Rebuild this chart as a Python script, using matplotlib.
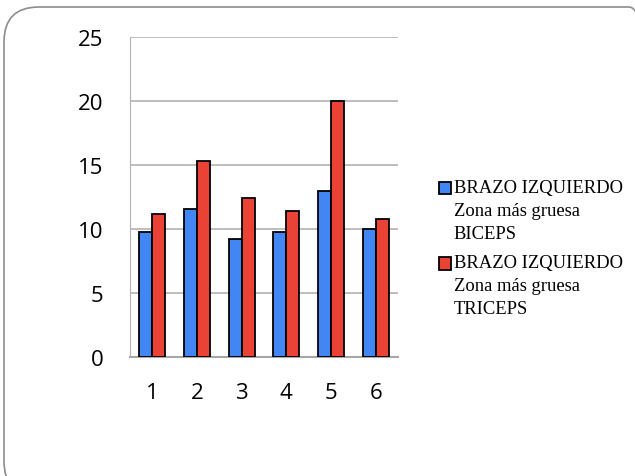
import matplotlib.pyplot as plt
import numpy as np
from matplotlib.patches import FancyBboxPatch, Rectangle
from matplotlib.legend_handler import HandlerPatch, update_from_first_child
from matplotlib.container import BarContainer

# datos
categorias = ['1', '2', '3', '4', '5', '6']
biceps = [9.8, 11.6, 9.2, 9.8, 13.0, 10.0]
triceps = [11.2, 15.3, 12.4, 11.4, 20.0, 10.8]
etiquetas = ['BRAZO IZQUIERDO\nZona más gruesa\nBICEPS',
             'BRAZO IZQUIERDO\nZona más gruesa\nTRICEPS']


def cuadro_arriba(legend, orig_handle, xdescent, ydescent, width, height, fontsize):
    # cuadrito alineado con la primera linea del texto
    return Rectangle((-xdescent, -ydescent + fontsize * 1.2), width, height)


fig = plt.figure(figsize=(6.35, 4.77), dpi=100)

# marco redondeado (se sale por la derecha y abajo)
marco = FancyBboxPatch((4 / 635, -20 / 477), 660 / 635, 489 / 477,
                       boxstyle="round,pad=0,rounding_size=0.055",
                       transform=fig.transFigure, facecolor='none',
                       edgecolor='#8c8c8c', linewidth=1.2, mutation_aspect=635 / 477,
                       zorder=-1)
fig.patches.append(marco)

ax = fig.add_axes([130 / 635, 1 - 358 / 477, 268 / 635, 320 / 477])
ax.set_facecolor('none')

x = np.arange(1, len(categorias) + 1)
w = 0.29
ax.bar(x - w / 2, biceps, w, color='#4286f4', edgecolor='black', linewidth=1.3, label=etiquetas[0], zorder=3)
ax.bar(x + w / 2, triceps, w, color='#ea4335', edgecolor='black', linewidth=1.3, label=etiquetas[1], zorder=3)

ax.set_xlim(0.5, 6.5)
ax.set_ylim(0, 25)
ax.set_yticks([0, 5, 10, 15, 20, 25])
ax.set_xticks(x)
ax.set_xticklabels(categorias)
ax.yaxis.grid(True, color='#b3b3b3', linewidth=1.2, zorder=0)
ax.tick_params(length=0, labelsize=16)
ax.tick_params(axis='y', pad=19)
ax.tick_params(axis='x', pad=18)
for lbl in ax.get_xticklabels() + ax.get_yticklabels():
    lbl.set_fontfamily('Open Sans')

for s in ['top', 'right']:
    ax.spines[s].set_visible(False)
ax.spines['left'].set_color('#b3b3b3')
ax.spines['bottom'].set_color('#a6a6a6')
ax.spines['bottom'].set_linewidth(1.5)

leg = ax.legend(loc='upper left', bbox_to_anchor=(430 / 635, 1 - 171 / 477), bbox_transform=fig.transFigure,
                frameon=False, prop={'family': 'Liberation Serif', 'size': 13.4},
                handlelength=0.65, handleheight=0.65, handletextpad=0.12, labelspacing=0.67, borderpad=0,
                handler_map={BarContainer: HandlerPatch(patch_func=cuadro_arriba,
                                                        update_func=update_from_first_child)})
for t in leg.get_texts():
    t.set_linespacing(1.45)

fig.savefig('out.png', dpi=100)
